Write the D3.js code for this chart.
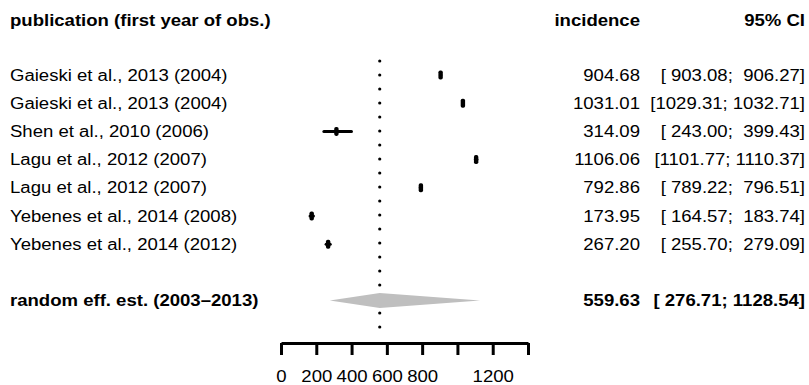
<!DOCTYPE html>
<html>
<head>
<meta charset="utf-8">
<script src="https://cdn.jsdelivr.net/npm/d3@7"></script>
<style>
  html, body { margin: 0; padding: 0; background: #fff; }
  svg text { font-family: "Liberation Sans", Arial, Helvetica, sans-serif; fill: #000; white-space: pre; }
</style>
</head>
<body>
<svg id="chart" width="809" height="385"></svg>
<script>
// Study rows: label, incidence estimate and 95% confidence limits
const studies = [
  "Gaieski et al., 2013 (2004)",
  "Gaieski et al., 2013 (2004)",
  "Shen et al., 2010 (2006)",
  "Lagu et al., 2012 (2007)",
  "Lagu et al., 2012 (2007)",
  "Yebenes et al., 2014 (2008)",
  "Yebenes et al., 2014 (2012)"
];
const incidence = [904.68, 1031.01, 314.09, 1106.06, 792.86, 173.95, 267.20];
const lower     = [903.08, 1029.31, 243.00, 1101.77, 789.22, 164.57, 255.70];
const upper     = [906.27, 1032.71, 399.43, 1110.37, 796.51, 183.74, 279.09];

// Pooled random-effects estimate
const pooledLabel = "random eff. est. (2003\u20132013)";
const pooled = [559.63, 276.71, 1128.54]; // estimate, lower, upper

// Axis ticks and the labels printed under them
const tickValues = [0, 200, 400, 600, 800, 1000, 1200, 1400];
const tickLabels = ["0", "200", "400", "600", "800", "", "1200", ""];

const svg = d3.select("#chart");
const fontSize = 16;
const stretch = 1.16; // glyphs are drawn slightly wide

const x = d3.scaleLinear().domain([0, 1400]).range([281, 528]);
const rowY = d3.scaleLinear().domain([0, 1]).range([75, 103.2]);
const pooledRow = 8;

const fmt = d3.format(".2f");
const lowW = d3.max(lower.concat([pooled[1]]), v => fmt(v).length);
const upW = d3.max(upper.concat([pooled[2]]), v => fmt(v).length);
const ciText = (lo, up) => "[" + fmt(lo).padStart(lowW, " ") + "; " + fmt(up).padStart(upW, " ") + "]";

const colEst = 640, colCI = 805, colLabel = 10;

// Places a wide text label at (tx, ty)
function label(parent, tx, ty, str, opts = {}) {
  return parent.append("text")
    .attr("transform", `translate(${tx},${ty}) scale(${stretch},1)`)
    .attr("dy", "0.35em")
    .attr("font-size", fontSize)
    .attr("font-weight", opts.bold ? "bold" : null)
    .attr("text-anchor", opts.anchor || "start")
    .text(str);
}

// Headers
const headY = 20;
label(svg, colLabel, headY, "publication (first year of obs.)", { bold: true });
label(svg, colEst, headY, "incidence", { bold: true, anchor: "end" });
label(svg, colCI, headY, "95% CI", { bold: true, anchor: "end" });

// Reference line at the pooled estimate
svg.append("line")
  .attr("x1", x(pooled[0])).attr("x2", x(pooled[0]))
  .attr("y1", 61).attr("y2", 330)
  .attr("stroke", "#000").attr("stroke-width", 3.2)
  .attr("stroke-linecap", "round").attr("stroke-dasharray", "0,14");

const rows = studies.map((s, i) => ({ s, est: incidence[i], lo: lower[i], up: upper[i], i }));

rows.forEach(d => {
  const y = rowY(d.i);
  label(svg, colLabel, y, d.s);
  label(svg, colEst, y, fmt(d.est), { anchor: "end" });
  label(svg, colCI, y, ciText(d.lo, d.up), { anchor: "end" });
});

// Confidence interval lines and point boxes
svg.selectAll("line.ci").data(rows).join("line").attr("class", "ci")
  .attr("x1", d => x(d.lo)).attr("x2", d => x(d.up))
  .attr("y1", d => rowY(d.i)).attr("y2", d => rowY(d.i))
  .attr("stroke", "#000").attr("stroke-width", 3).attr("stroke-linecap", "round");
svg.selectAll("rect.box").data(rows).join("rect").attr("class", "box")
  .attr("x", d => x(d.est) - 2.2).attr("y", d => rowY(d.i) - 4.5)
  .attr("width", 4.4).attr("height", 9).attr("rx", 1.8).attr("fill", "#000");

// Pooled estimate row
const py = rowY(pooledRow);
label(svg, colLabel, py, pooledLabel, { bold: true });
label(svg, colEst, py, fmt(pooled[0]), { bold: true, anchor: "end" });
label(svg, colCI, py, ciText(pooled[1], pooled[2]), { bold: true, anchor: "end" });

const dh = 7.5;
svg.append("path")
  .attr("d", d3.line()([
    [x(pooled[1]), py], [x(pooled[0]), py - dh], [x(pooled[2]), py], [x(pooled[0]), py + dh]
  ]) + "Z")
  .attr("fill", "#bfbfbf").attr("stroke", "none");

// x axis
const axis = d3.axisBottom(x).tickValues(tickValues)
  .tickFormat((d, i) => tickLabels[i]).tickSize(12).tickSizeOuter(0).tickPadding(16);
const ax = svg.append("g").attr("transform", "translate(0,343)").call(axis);
ax.select(".domain").attr("stroke", "#000").attr("stroke-width", 3);
ax.selectAll(".tick line").attr("stroke", "#000").attr("stroke-width", 3);
ax.selectAll(".tick text")
  .attr("font-size", fontSize)
  .attr("font-family", "Liberation Sans, Arial, sans-serif")
  .attr("fill", "#000")
  .attr("transform", `scale(${stretch},1)`)
  .attr("x", function() { return 0; });
</script>
</body>
</html>
